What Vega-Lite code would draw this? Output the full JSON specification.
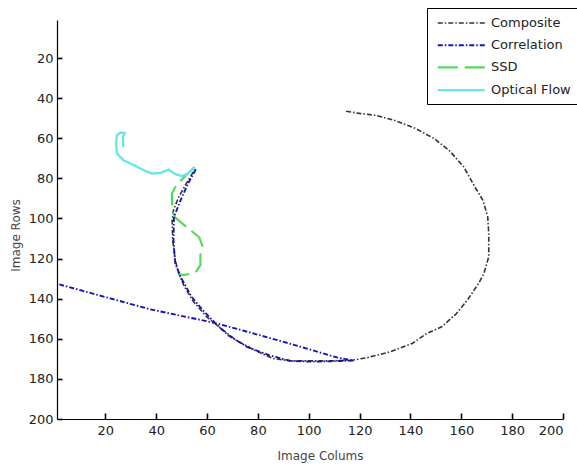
{
  "$schema": "https://vega.github.io/schema/vega-lite/v6.json",
  "width": 506,
  "height": 399,
  "autosize": {"type": "none"},
  "padding": {"left": 57, "top": 20, "right": 14, "bottom": 53},
  "background": "white",
  "config": {
    "view": {"stroke": null},
    "font": "DejaVu Sans",
    "axis": {
      "grid": false,
      "domainColor": "#000000",
      "domainWidth": 1.2,
      "labelFont": "DejaVu Sans",
      "labelFontSize": 13,
      "labelColor": "#222222",
      "titleFont": "DejaVu Sans",
      "titleFontSize": 12,
      "titleFontWeight": "normal",
      "titleColor": "#444444"
    },
    "legend": {
      "orient": "none",
      "legendX": 370,
      "legendY": -12,
      "strokeColor": "#000000",
      "fillColor": "#ffffff",
      "padding": 6,
      "rowPadding": 6.2,
      "labelFont": "DejaVu Sans",
      "labelFontSize": 13,
      "labelColor": "#222222",
      "labelOffset": 39,
      "symbolType": "M-0.6,0H5.4",
      "symbolSize": 246,
      "symbolStrokeWidth": 1.5,
      "cornerRadius": 0
    }
  },
  "data": {
    "values": [
      {"method": "Composite", "i": 1, "x": 114.7, "y": 46.5},
      {"method": "Composite", "i": 2, "x": 120.5, "y": 47.7},
      {"method": "Composite", "i": 3, "x": 126.3, "y": 48.5},
      {"method": "Composite", "i": 4, "x": 133.5, "y": 51},
      {"method": "Composite", "i": 5, "x": 142.2, "y": 55.2},
      {"method": "Composite", "i": 6, "x": 149.4, "y": 60.2},
      {"method": "Composite", "i": 7, "x": 155.2, "y": 66},
      {"method": "Composite", "i": 8, "x": 161, "y": 74.3},
      {"method": "Composite", "i": 9, "x": 165.3, "y": 84.2},
      {"method": "Composite", "i": 10, "x": 168.5, "y": 90.9},
      {"method": "Composite", "i": 11, "x": 170.4, "y": 99.2},
      {"method": "Composite", "i": 12, "x": 170.8, "y": 107.5},
      {"method": "Composite", "i": 13, "x": 170.8, "y": 119.1},
      {"method": "Composite", "i": 14, "x": 168.9, "y": 127.4},
      {"method": "Composite", "i": 15, "x": 166.8, "y": 132.4},
      {"method": "Composite", "i": 16, "x": 162.4, "y": 140.7},
      {"method": "Composite", "i": 17, "x": 158.1, "y": 147.4},
      {"method": "Composite", "i": 18, "x": 152.3, "y": 154},
      {"method": "Composite", "i": 19, "x": 146.5, "y": 157.3},
      {"method": "Composite", "i": 20, "x": 140.7, "y": 162.3},
      {"method": "Composite", "i": 21, "x": 132, "y": 166.5},
      {"method": "Composite", "i": 22, "x": 123.4, "y": 169.3},
      {"method": "Composite", "i": 23, "x": 117.6, "y": 170.6},
      {"method": "Composite", "i": 24, "x": 109, "y": 171},
      {"method": "Composite", "i": 25, "x": 93, "y": 171},
      {"method": "Composite", "i": 26, "x": 85.8, "y": 169.8},
      {"method": "Composite", "i": 27, "x": 78.6, "y": 165.6},
      {"method": "Composite", "i": 28, "x": 71.3, "y": 160.6},
      {"method": "Composite", "i": 29, "x": 65.5, "y": 154.8},
      {"method": "Composite", "i": 30, "x": 59.8, "y": 149},
      {"method": "Composite", "i": 31, "x": 54.7, "y": 141.5},
      {"method": "Composite", "i": 32, "x": 51.1, "y": 134},
      {"method": "Composite", "i": 33, "x": 48.9, "y": 127.4},
      {"method": "Composite", "i": 34, "x": 47.5, "y": 120.8},
      {"method": "Composite", "i": 35, "x": 46.5, "y": 110.8},
      {"method": "Composite", "i": 36, "x": 46.3, "y": 100.8},
      {"method": "Composite", "i": 37, "x": 46.8, "y": 95.9},
      {"method": "Composite", "i": 38, "x": 48.9, "y": 89.2},
      {"method": "Composite", "i": 39, "x": 51.8, "y": 82.6},
      {"method": "Composite", "i": 40, "x": 55.4, "y": 75.1},
      {"method": "SSD", "i": 1, "x": 55.1, "y": 74.3},
      {"method": "SSD", "i": 2, "x": 47.9, "y": 83.4},
      {"method": "SSD", "i": 3, "x": 46.2, "y": 87.6},
      {"method": "SSD", "i": 4, "x": 46.2, "y": 95.9},
      {"method": "SSD", "i": 5, "x": 47.5, "y": 99.5},
      {"method": "SSD", "i": 6, "x": 49.5, "y": 101.7},
      {"method": "SSD", "i": 7, "x": 57, "y": 109.5},
      {"method": "SSD", "i": 8, "x": 58.2, "y": 113.8},
      {"method": "SSD", "i": 9, "x": 57.4, "y": 118.3},
      {"method": "SSD", "i": 10, "x": 57.4, "y": 123.3},
      {"method": "SSD", "i": 11, "x": 55.4, "y": 127.1},
      {"method": "SSD", "i": 12, "x": 50.8, "y": 128.2},
      {"method": "SSD", "i": 13, "x": 48.8, "y": 127.7},
      {"method": "Optical Flow", "i": 1, "x": 27, "y": 64.3},
      {"method": "Optical Flow", "i": 2, "x": 27, "y": 59.3},
      {"method": "Optical Flow", "i": 3, "x": 27.6, "y": 57.3},
      {"method": "Optical Flow", "i": 4, "x": 25.9, "y": 57.2},
      {"method": "Optical Flow", "i": 5, "x": 24.6, "y": 58.5},
      {"method": "Optical Flow", "i": 6, "x": 24.2, "y": 62.6},
      {"method": "Optical Flow", "i": 7, "x": 24.6, "y": 67.6},
      {"method": "Optical Flow", "i": 8, "x": 27.2, "y": 71},
      {"method": "Optical Flow", "i": 9, "x": 31.2, "y": 73.4},
      {"method": "Optical Flow", "i": 10, "x": 35.1, "y": 75.9},
      {"method": "Optical Flow", "i": 11, "x": 38.4, "y": 77.6},
      {"method": "Optical Flow", "i": 12, "x": 41.7, "y": 77.3},
      {"method": "Optical Flow", "i": 13, "x": 44.9, "y": 75.6},
      {"method": "Optical Flow", "i": 14, "x": 47.6, "y": 77.9},
      {"method": "Optical Flow", "i": 15, "x": 50.2, "y": 78.9},
      {"method": "Optical Flow", "i": 16, "x": 52.8, "y": 77.3},
      {"method": "Optical Flow", "i": 17, "x": 55.1, "y": 74.8},
      {"method": "Correlation", "i": 1, "x": 55.6, "y": 75.5},
      {"method": "Correlation", "i": 2, "x": 52.5, "y": 82.6},
      {"method": "Correlation", "i": 3, "x": 49.6, "y": 90.9},
      {"method": "Correlation", "i": 4, "x": 47, "y": 99.2},
      {"method": "Correlation", "i": 5, "x": 46.8, "y": 110.8},
      {"method": "Correlation", "i": 6, "x": 47.5, "y": 122.4},
      {"method": "Correlation", "i": 7, "x": 49.6, "y": 129.1},
      {"method": "Correlation", "i": 8, "x": 53.9, "y": 139},
      {"method": "Correlation", "i": 9, "x": 58.3, "y": 145.7},
      {"method": "Correlation", "i": 10, "x": 64, "y": 153.2},
      {"method": "Correlation", "i": 11, "x": 68.3, "y": 158.2},
      {"method": "Correlation", "i": 12, "x": 75.7, "y": 164},
      {"method": "Correlation", "i": 13, "x": 84.3, "y": 168.1},
      {"method": "Correlation", "i": 14, "x": 93, "y": 171.1},
      {"method": "Correlation", "i": 15, "x": 101.7, "y": 171.4},
      {"method": "Correlation", "i": 16, "x": 111.8, "y": 171.1},
      {"method": "Correlation", "i": 17, "x": 117.6, "y": 170.9},
      {"method": "Correlation", "i": 18, "x": 111.1, "y": 169.3},
      {"method": "Correlation", "i": 19, "x": 90.1, "y": 161.5},
      {"method": "Correlation", "i": 20, "x": 63.9, "y": 152.3},
      {"method": "Correlation", "i": 21, "x": 37.7, "y": 145.3},
      {"method": "Correlation", "i": 22, "x": 1.9, "y": 132.9}
    ]
  },
  "mark": {"type": "line", "clip": true},
  "encoding": {
    "x": {
      "field": "x",
      "type": "quantitative",
      "scale": {"domain": [1, 200], "nice": false, "zero": false},
      "axis": {
        "title": "Image Colums",
        "values": [20, 40, 60, 80, 100, 120, 140, 160, 180, 200],
        "ticks": true,
        "tickSize": -6,
        "tickColor": "#000000",
        "tickWidth": 1.6,
        "tickOpacity": 1,
        "labelPadding": 11,
        "titleX": 263,
        "titleY": 31,
        "titleBaseline": "top"
      }
    },
    "y": {
      "field": "y",
      "type": "quantitative",
      "scale": {"domain": [1, 200], "nice": false, "zero": false, "reverse": true},
      "axis": {
        "title": "Image Rows",
        "values": [20, 40, 60, 80, 100, 120, 140, 160, 180, 200],
        "ticks": true,
        "tickSize": -5,
        "tickColor": "#000000",
        "tickWidth": 1.6,
        "tickOpacity": 1,
        "labelPadding": 9,
        "titleX": -35,
        "titleY": 215,
        "titleBaseline": "bottom"
      }
    },
    "order": {"field": "i", "type": "quantitative"},
    "color": {
      "field": "method",
      "type": "nominal",
      "scale": {
        "domain": ["Composite", "Correlation", "SSD", "Optical Flow"],
        "range": ["#333333", "#1414b4", "#55d855", "#6ae6e6"]
      },
      "legend": {"title": null}
    },
    "strokeDash": {
      "field": "method",
      "type": "nominal",
      "scale": {
        "domain": ["Composite", "Correlation", "SSD", "Optical Flow"],
        "range": [[5, 2, 1.5, 2], [5, 2, 1.5, 2], [20, 7], [1, 0]]
      },
      "legend": {"title": null}
    },
    "strokeWidth": {
      "field": "method",
      "type": "ordinal",
      "scale": {
        "domain": ["Composite", "Correlation", "SSD", "Optical Flow"],
        "range": [1.6, 2.4, 1.2, 1.1]
      },
      "legend": null
    }
  }
}
